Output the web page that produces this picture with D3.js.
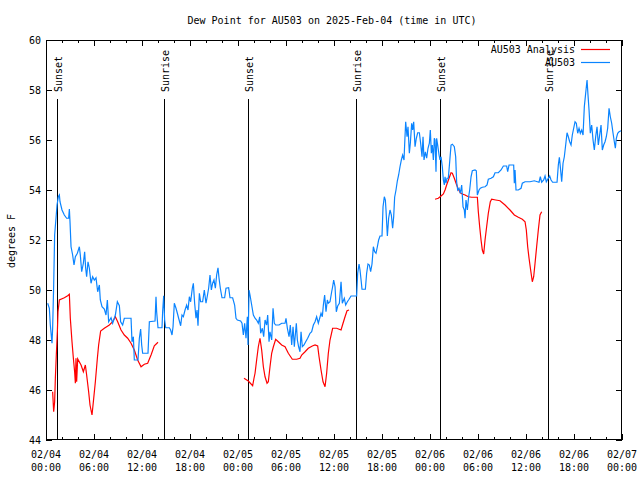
<!DOCTYPE html>
<html><head><meta charset="utf-8">
<script src="https://cdn.jsdelivr.net/npm/d3@7"></script>
<style>body{margin:0;background:#fff}svg{display:block}text{font-family:"DejaVu Sans Mono","Liberation Mono",monospace;font-size:10px;fill:#000}</style>
</head><body>
<svg id="c" width="640" height="480"></svg>
<script>
const title = "Dew Point for AU503 on 2025-Feb-04 (time in UTC)";
const yLabel = "degrees F";
const seriesNames = ["AU503 Analysis", "AU503"];
const yTicks = [44, 46, 48, 50, 52, 54, 56, 58, 60];
// hours since 2025-02-04 00:00 UTC
const sunHours = [1.42, 14.8, 25.3, 38.8, 49.3, 62.7];
const sunLabels = ["Sunset", "Sunrise", "Sunset", "Sunrise", "Sunset", "Sunrise"];

const blueHours = [0.21,0.42,0.54,0.75,0.83,0.96,1.08,1.25,1.38,1.54,1.67,1.75,2.0,2.29,2.58,2.83,2.92,3.0,3.13,3.33,3.5,3.67,3.92,4.17,4.29,4.46,4.67,4.83,4.96,5.08,5.25,5.42,5.63,5.83,6.04,6.25,6.46,6.67,6.79,7.0,7.29,7.5,7.67,7.83,8.13,8.33,8.67,8.92,9.17,9.33,9.58,9.79,10.63,10.75,10.92,11.04,11.5,11.67,11.83,11.96,12.08,12.75,12.92,13.63,13.75,13.83,14.0,14.5,14.58,14.71,14.83,14.96,15.42,15.58,15.75,15.88,16.04,16.25,16.42,16.58,16.83,17.0,17.17,17.38,17.58,17.75,17.92,18.08,18.29,18.42,18.58,18.75,18.88,19.0,19.17,19.33,19.58,19.79,20.0,20.17,20.33,20.5,20.67,20.83,21.0,21.17,21.33,21.5,21.63,21.79,22.0,22.33,22.5,22.83,23.0,23.33,23.58,23.75,23.92,24.33,24.5,24.67,24.83,25.0,25.17,25.25,25.38,25.5,25.71,25.92,26.13,26.33,26.54,26.71,26.83,27.04,27.21,27.38,27.58,27.71,27.88,28.0,28.21,28.38,28.54,28.71,29.13,29.46,29.88,30.0,30.17,30.38,30.54,30.71,30.88,31.04,31.29,31.42,31.58,31.75,31.88,32.04,32.25,32.46,32.71,33.0,33.21,33.42,33.63,33.83,34.04,34.21,34.38,34.54,34.67,34.83,35.0,35.17,35.29,35.5,35.71,35.83,35.96,36.13,36.29,36.46,36.67,36.88,37.04,37.29,37.46,37.67,37.88,38.13,38.83,38.96,39.13,39.25,39.42,39.5,39.92,40.08,40.25,40.42,40.58,40.75,40.92,41.08,41.25,41.42,41.58,41.75,42.0,42.13,42.29,42.42,42.5,42.67,42.83,43.0,43.17,43.33,43.46,43.58,43.75,43.92,44.08,44.25,44.42,44.58,44.75,44.83,44.96,45.13,45.25,45.42,45.54,45.71,45.83,45.96,46.13,46.29,46.46,46.67,46.83,47.0,47.13,47.25,47.42,47.58,47.75,47.92,48.04,48.17,48.29,48.42,48.54,48.63,48.75,48.83,48.96,49.13,49.25,49.38,49.54,49.67,49.79,49.88,50.0,50.13,50.29,50.46,50.63,50.79,51.04,51.21,51.33,51.46,51.63,51.79,51.96,52.13,52.29,52.38,52.5,52.67,52.83,52.96,53.13,53.29,53.63,53.79,53.92,54.13,54.29,54.54,54.88,55.13,55.29,55.63,55.92,56.13,56.54,56.88,57.17,57.58,57.71,57.88,58.46,58.54,58.63,58.75,59.04,59.38,59.54,59.88,60.5,61.04,61.63,61.79,61.96,62.21,62.38,62.54,62.79,62.96,63.13,63.33,63.88,64.04,64.17,64.29,64.46,64.63,64.79,64.96,65.13,65.29,65.46,65.63,65.79,65.96,66.13,66.29,66.46,66.63,66.79,66.96,67.13,67.29,67.46,67.63,67.75,67.88,68.04,68.21,68.38,68.54,68.71,68.88,69.04,69.21,69.38,69.54,69.71,69.88,70.04,70.21,70.38,70.54,70.71,70.88,71.04,71.17,71.29,71.46,71.63,71.88];
const blueValues = [49.47,49.27,48.6,47.87,48.47,50.2,52.2,52.87,53.4,53.73,53.8,53.53,53.2,53.0,52.87,52.87,53.24,52.73,51.73,51.4,51.0,51.33,51.47,51.73,51.4,50.73,51.07,51.53,50.87,50.53,51.13,50.87,50.27,50.53,50.4,50.49,49.93,50.2,49.6,49.33,49.24,49.0,49.6,48.73,48.89,48.67,49.0,49.53,49.37,48.73,48.6,48.87,48.87,47.93,48.13,47.2,47.2,48.07,48.44,47.8,47.47,47.47,48.73,48.76,49.73,49.13,48.49,48.49,49.13,49.77,48.8,48.49,48.49,48.4,48.2,48.53,49.47,49.27,49.07,48.87,48.57,49.0,48.93,49.2,49.4,49.2,49.73,49.53,50.07,50.27,49.47,48.87,49.2,48.57,49.87,49.53,49.53,50.0,49.47,49.77,50.07,50.6,50.0,50.27,50.4,50.07,50.6,50.89,50.47,50.07,49.69,49.69,50.07,50.09,49.69,49.69,49.4,48.87,48.8,48.76,48.67,48.2,48.67,48.07,48.93,47.8,50.0,49.8,49.4,49.0,48.87,48.8,48.67,48.93,48.27,48.47,48.13,48.8,48.6,49.0,47.93,48.33,48.0,49.27,48.67,48.6,48.6,48.67,48.67,48.87,48.47,48.13,48.6,47.8,48.53,47.73,48.67,48.0,47.73,47.53,48.33,47.73,47.8,47.93,48.07,48.27,48.33,48.6,48.73,48.93,48.67,48.87,49.07,48.93,49.4,49.8,49.13,49.6,49.47,49.53,49.93,50.13,50.4,50.13,49.13,49.36,49.47,50.33,49.47,49.67,49.4,49.53,49.63,49.76,49.76,50.67,51.04,50.8,50.29,50.03,50.03,50.67,51.04,51.0,50.73,51.04,51.73,51.53,51.47,51.73,52.0,52.16,52.16,53.33,53.73,53.6,53.2,52.16,52.87,53.2,53.0,52.47,52.93,53.71,54.0,54.37,54.6,54.93,55.2,55.4,55.2,55.8,56.73,56.13,56.53,55.47,55.87,56.67,56.4,56.73,55.73,56.07,56.29,56.29,55.87,55.33,56.13,55.2,55.53,55.27,55.67,55.87,56.4,55.47,55.8,55.2,56.07,56.0,54.73,56.07,55.8,55.4,55.2,55.33,54.93,54.4,54.2,54.53,54.27,54.47,54.47,55.13,55.8,55.83,55.73,55.33,54.33,54.0,54.07,53.87,54.2,53.33,53.2,52.87,53.6,53.2,53.73,54.0,54.53,54.77,54.8,54.77,53.8,54.0,54.07,54.11,54.13,54.2,54.43,54.47,54.53,54.69,54.69,54.8,54.96,54.96,54.73,55.0,55.0,54.27,54.8,54.0,54.0,54.07,54.27,54.33,54.33,54.37,54.31,54.53,54.31,54.4,54.56,54.33,54.47,54.56,54.4,54.31,54.31,55.0,55.31,54.93,54.33,55.07,55.33,55.8,56.29,56.13,55.93,55.8,56.2,56.47,56.73,56.67,56.27,56.47,56.27,56.4,56.2,57.33,57.87,58.4,57.8,57.2,56.27,56.6,56.0,55.6,56.13,56.53,55.8,56.2,56.6,55.6,55.8,55.93,56.13,56.47,57.27,56.93,56.67,56.27,55.93,55.67,56.07,56.27,56.33,56.37];

// null marks a gap in the analysis series
const redHours = [0.83,0.96,1.08,1.17,1.29,1.42,1.5,1.67,2.29,2.71,2.92,3.04,3.25,3.42,3.58,3.67,3.75,3.83,3.96,4.38,4.67,4.92,5.08,5.33,5.5,5.75,5.92,6.17,6.42,6.58,6.83,7.29,7.92,8.33,8.67,8.96,9.38,9.79,10.21,10.63,11.04,11.46,11.88,12.29,12.71,13.13,13.54,14.0,
  null,
  24.75,25.29,25.83,26.0,26.13,26.33,26.54,26.75,26.96,27.17,27.38,27.63,27.79,28.0,28.21,28.42,28.71,29.04,29.46,29.88,30.29,30.79,31.33,31.75,31.96,32.38,32.79,33.29,33.63,33.96,34.13,34.38,34.63,34.88,35.08,35.29,35.5,35.83,36.33,36.88,37.13,37.38,37.63,37.88,
  null,
  48.63,49.04,49.38,49.67,49.88,50.08,50.38,50.63,50.79,51.04,51.29,51.54,51.79,52.04,52.38,52.79,53.21,53.63,53.92,54.04,54.21,54.38,54.54,54.71,54.88,55.08,55.29,55.54,55.71,56.21,56.75,57.38,58.0,58.54,59.04,59.54,59.88,60.04,60.21,60.38,60.58,60.79,60.96,61.13,61.33,61.54,61.75,61.96];
const redValues = [45.93,45.13,45.53,46.47,47.4,48.33,49.13,49.6,49.69,49.77,49.83,48.87,47.93,47.27,46.73,46.27,47.27,46.33,47.24,47.0,46.73,47.0,46.6,45.93,45.4,45.0,45.53,46.33,47.27,47.8,48.36,48.47,48.6,48.73,48.93,48.73,48.4,48.2,48.07,47.87,47.6,47.2,46.93,47.03,47.07,47.4,47.77,47.91,
  null,
  46.47,46.36,46.17,46.47,46.67,47.2,47.73,48.07,47.6,46.93,46.53,46.27,46.33,46.93,47.47,47.73,48.03,47.93,47.8,47.73,47.47,47.23,47.23,47.27,47.4,47.53,47.67,47.76,47.8,47.76,47.33,46.8,46.33,46.13,46.67,47.47,48.0,48.47,48.47,48.4,48.67,48.93,49.17,49.2,
  null,
  53.63,53.67,53.76,53.84,54.0,54.2,54.47,54.69,54.67,54.47,54.24,54.03,53.89,53.84,53.8,53.73,53.71,53.71,53.71,53.13,52.53,52.0,51.6,51.44,52.0,52.53,53.07,53.53,53.63,53.6,53.57,53.4,53.2,53.0,52.91,52.83,52.73,52.4,51.73,51.27,50.8,50.33,50.53,51.07,51.73,52.4,53.0,53.13];

const base = Date.UTC(2025, 1, 4);
const toDate = h => new Date(base + h * 3600e3);
const L = 46, R = 622, T = 40, B = 440;
const svg = d3.select("#c");
const x = d3.scaleUtc().domain([toDate(0), toDate(72)]).range([L, R]);
const y = d3.scaleLinear().domain([44, 60]).range([B, T]);

const blue = blueHours.map((h, i) => ({t: toDate(h), v: blueValues[i]}));
const red = redHours.map((h, i) => ({t: h == null ? null : toDate(h), v: redValues[i]}));

// frame
svg.append("rect").attr("x", L + 0.5).attr("y", T + 0.5).attr("width", R - L - 1).attr("height", B - T - 1)
  .attr("fill", "none").attr("stroke", "#000");

// ticks
const majorX = d3.utcHour.every(6).range(toDate(0), toDate(72.01));
const minorX = d3.utcHour.every(2).range(toDate(0), toDate(72.01));
const tg = svg.append("g").attr("stroke", "#000").attr("shape-rendering", "crispEdges");
minorX.forEach(d => {
  const isMajor = d.getUTCHours() % 6 === 0;
  const len = isMajor ? 6 : 3;
  const px = Math.round(x(d)) + 0.5;
  tg.append("line").attr("x1", px).attr("x2", px).attr("y1", B).attr("y2", B - len);
  tg.append("line").attr("x1", px).attr("x2", px).attr("y1", T).attr("y2", T + len);
});
yTicks.forEach(v => {
  const py = Math.round(y(v)) + 0.5;
  tg.append("line").attr("x1", L).attr("x2", L + 6).attr("y1", py).attr("y2", py);
  tg.append("line").attr("x1", R - 6).attr("x2", R).attr("y1", py).attr("y2", py);
});

// tick labels
const fmtD = d3.utcFormat("%m/%d"), fmtT = d3.utcFormat("%H:%M");
majorX.forEach(d => {
  const t = svg.append("text").attr("x", x(d)).attr("text-anchor", "middle");
  t.append("tspan").attr("x", x(d)).attr("y", 458).text(fmtD(d));
  t.append("tspan").attr("x", x(d)).attr("y", 471).text(fmtT(d));
});
yTicks.forEach(v => {
  svg.append("text").attr("x", 41).attr("y", y(v)).attr("dy", "0.35em").attr("text-anchor", "end").text(v);
});

// title and axis label
svg.append("text").attr("x", 332).attr("y", 20).attr("dy", "0.35em").attr("text-anchor", "middle").text(title);
svg.append("text").attr("transform", "translate(11,241) rotate(-90)").attr("text-anchor", "middle").attr("dy", "0.35em").text(yLabel);

// sunrise / sunset markers
sunHours.forEach((h, i) => {
  const px = Math.round(x(toDate(h))) + 0.5;
  svg.append("line").attr("x1", px).attr("x2", px).attr("y1", 99).attr("y2", B).attr("stroke", "#000").attr("shape-rendering", "crispEdges");
  svg.append("text").attr("transform", `translate(${px + 1},92) rotate(-90)`).attr("dy", "0.35em").text(sunLabels[i]);
});

// series
const line = d3.line().defined(d => d.t != null && d.v != null).x(d => x(d.t)).y(d => y(d.v));
svg.append("path").datum(red).attr("d", line).attr("fill", "none").attr("stroke", "#ff0000").attr("stroke-width", 1.2);
svg.append("path").datum(blue).attr("d", line).attr("fill", "none").attr("stroke", "#0a84ff").attr("stroke-width", 1.2);

// legend
const colors = ["#ff0000", "#0a84ff"];
seriesNames.forEach((n, i) => {
  const ly = 49.5 + i * 13;
  svg.append("text").attr("x", 575).attr("y", ly).attr("dy", "0.35em").attr("text-anchor", "end").text(n);
  svg.append("line").attr("x1", 581).attr("x2", 610).attr("y1", ly).attr("y2", ly).attr("stroke", colors[i]).attr("stroke-width", 1.2);
});
</script>
</body></html>
